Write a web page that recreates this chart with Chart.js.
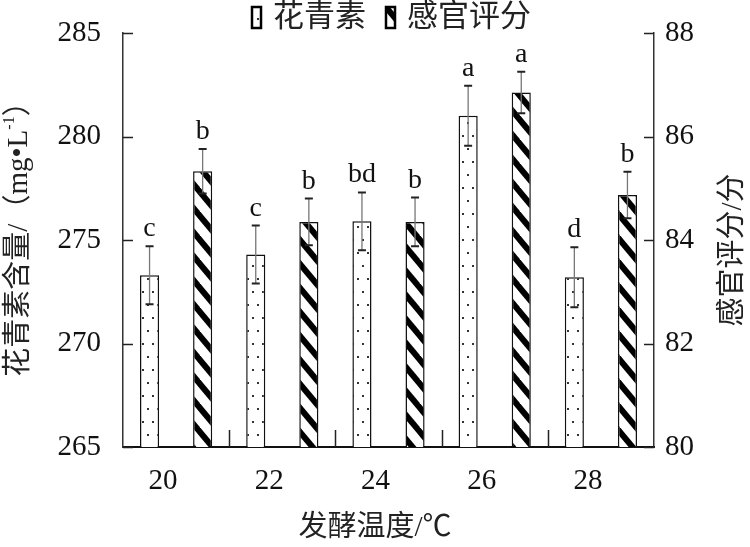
<!DOCTYPE html>
<html>
<head>
<meta charset="utf-8">
<script src="https://cdn.jsdelivr.net/npm/chart.js@4/dist/chart.umd.min.js"></script>
<style>
    body { margin: 0; background: #fff; }
    #wrap { width: 750px; height: 547px; }
</style>
</head>
<body>
<div id="wrap"><canvas id="chart"></canvas></div>
<script>
// Fermentation temperature (x categories)
const temps = [20, 22, 24, 26, 28];

// Anthocyanin content, mg/L (left axis)
const anthocyanin = [273.3, 274.3, 275.9, 281.0, 273.2];
const anthocyaninErr = [1.4, 1.4, 1.4, 1.45, 1.45];
const anthocyaninSig = ['c', 'c', 'bd', 'a', 'd'];

// Sensory score (right axis)
const sensory = [85.33, 84.35, 84.35, 86.85, 84.87];
const sensoryErr = [0.43, 0.45, 0.47, 0.4, 0.45];
const sensorySig = ['b', 'b', 'b', 'a', 'b'];

// Axis ticks
const leftTicks = { min: 265, max: 285, step: 5 };
const rightTicks = { min: 80, max: 88, step: 2 };

const serif = '"Liberation Serif", "Times New Roman", "Noto Sans CJK SC", serif';
const cjk = '"Liberation Serif", "Noto Sans CJK SC", serif';

// Fill patterns
function dotPattern() {
    const c = document.createElement('canvas');
    c.width = 10; c.height = 26;
    const g = c.getContext('2d');
    g.fillStyle = '#fff';
    g.fillRect(0, 0, 10, 26);
    g.fillStyle = '#333';
    g.fillRect(2, 5, 2, 2);
    g.fillRect(7, 18, 2, 2);
    return g.createPattern(c, 'repeat');
}

function hatchPattern() {
    const w = 20, h = 24;
    const c = document.createElement('canvas');
    c.width = w; c.height = h;
    const g = c.getContext('2d');
    g.fillStyle = '#fff';
    g.fillRect(0, 0, w, h);
    g.strokeStyle = '#000';
    g.lineWidth = 6;
    for (let k = -1; k <= 1; k++) {
        g.beginPath();
        g.moveTo(k * w - 3, -3.6);
        g.lineTo(k * w + w + 3, h + 3.6);
        g.stroke();
    }
    return g.createPattern(c, 'repeat');
}

const dots = dotPattern();
const hatch = hatchPattern();

// Fix the axis box size and drop the label overflow padding
function fixAxis(size) {
    return axis => {
        if (axis.isHorizontal()) axis.height = size;
        else axis.width = size;
        axis.paddingTop = 0;
        axis.paddingBottom = 0;
    };
}

// Error bars, significance letters, inward ticks, legend and titles
const decor = {
    id: 'decor',
    afterDatasetsDraw(chart) {
        const ctx = chart.ctx;
        const errs = [anthocyaninErr, sensoryErr];
        const sigs = [anthocyaninSig, sensorySig];
        const vals = [anthocyanin, sensory];
        ctx.save();
        chart.data.datasets.forEach((ds, i) => {
            const meta = chart.getDatasetMeta(i);
            const ys = chart.scales[meta.yAxisID];
            meta.data.forEach((bar, j) => {
                const top = ys.getPixelForValue(vals[i][j] + errs[i][j]);
                const bot = ys.getPixelForValue(vals[i][j] - errs[i][j]);
                ctx.strokeStyle = '#777';
                ctx.lineWidth = 1.3;
                ctx.beginPath();
                ctx.moveTo(bar.x, top);
                ctx.lineTo(bar.x, bot);
                ctx.stroke();
                ctx.strokeStyle = '#222';
                ctx.lineWidth = 2;
                ctx.beginPath();
                ctx.moveTo(bar.x - 4, top); ctx.lineTo(bar.x + 4, top);
                ctx.moveTo(bar.x - 4, bot); ctx.lineTo(bar.x + 4, bot);
                ctx.stroke();
                ctx.fillStyle = '#111';
                ctx.font = '28px ' + serif;
                ctx.textAlign = 'center';
                ctx.textBaseline = 'alphabetic';
                ctx.fillText(sigs[i][j], bar.x, top - 10);
            });
        });

        // inward tick marks
        const { y, y1, x } = chart.scales;
        ctx.strokeStyle = '#222';
        ctx.lineWidth = 1.5;
        ctx.beginPath();
        y.ticks.forEach(t => {
            const p = Math.round(y.getPixelForValue(t.value)) + 0.5;
            ctx.moveTo(y.right, p); ctx.lineTo(y.right + 10, p);
        });
        y1.ticks.forEach(t => {
            const p = Math.round(y1.getPixelForValue(t.value)) + 0.5;
            ctx.moveTo(y1.left, p); ctx.lineTo(y1.left - 10, p);
        });
        for (let k = 0; k < temps.length - 1; k++) {
            const p = Math.round(x.getPixelForValue((temps[k] + temps[k + 1]) / 2)) + 0.5;
            ctx.moveTo(p, x.top); ctx.lineTo(p, x.top - 17);
        }
        ctx.stroke();
        ctx.restore();
    },
    afterDraw(chart) {
        const ctx = chart.ctx;
        ctx.save();
        ctx.fillStyle = '#222';
        ctx.textBaseline = 'middle';

        // legend
        ctx.font = '31px ' + cjk;
        ctx.textAlign = 'left';
        let lx = 252;
        chart.data.datasets.forEach(ds => {
            ctx.fillStyle = ds.backgroundColor;
            ctx.fillRect(lx, 7, 9, 21);
            ctx.strokeStyle = '#000';
            ctx.lineWidth = 2.5;
            ctx.strokeRect(lx, 7, 9, 21);
            ctx.fillStyle = '#222';
            ctx.fillText(ds.label, lx + 21, 18);
            lx += 21 + ctx.measureText(ds.label).width + 20;
        });

        // x title
        ctx.font = '29px ' + cjk;
        ctx.textAlign = 'center';
        ctx.fillText('发酵温度/℃', 375, 528);

        // right title
        ctx.save();
        ctx.translate(733, 250);
        ctx.rotate(-Math.PI / 2);
        ctx.fillText('感官评分/分', 0, 0);
        ctx.restore();

        // left title with superscript
        ctx.save();
        ctx.translate(19, 232);
        ctx.rotate(-Math.PI / 2);
        const a = '花青素含量/（mg•L', sup = '-1', b = '）';
        ctx.font = '29px ' + cjk;
        const wa = ctx.measureText(a).width, wb = ctx.measureText(b).width;
        ctx.font = '16px ' + serif;
        const ws = ctx.measureText(sup).width;
        let sx = -(wa + ws + wb) / 2;
        ctx.textAlign = 'left';
        ctx.font = '29px ' + cjk;
        ctx.fillText(a, sx, 0);
        ctx.font = '16px ' + serif;
        ctx.fillText(sup, sx + wa, -9);
        ctx.font = '29px ' + cjk;
        ctx.fillText(b, sx + wa + ws, 0);
        ctx.restore();

        ctx.restore();
    }
};

new Chart(document.getElementById('chart').getContext('2d'), {
    type: 'bar',
    data: {
        datasets: [{
            label: '花青素',
            data: temps.map((t, i) => ({ x: t, y: anthocyanin[i] })),
            yAxisID: 'y',
            base: leftTicks.min,
            backgroundColor: dots,
            borderColor: '#111',
            borderWidth: 1.5
        }, {
            label: '感官评分',
            data: temps.map((t, i) => ({ x: t, y: sensory[i] })),
            yAxisID: 'y1',
            base: rightTicks.min,
            backgroundColor: hatch,
            borderColor: '#111',
            borderWidth: 1.5
        }]
    },
    options: {
        responsive: true,
        maintainAspectRatio: false,
        animation: false,
        categoryPercentage: 1.0,
        barPercentage: 0.36,
        layout: { padding: { top: 33, left: 0, right: 0, bottom: 0 } },
        plugins: {
            legend: { display: false },
            tooltip: { enabled: false }
        },
        scales: {
            x: {
                type: 'linear',
                offset: false,
                min: 19,
                max: 29,
                afterBuildTicks: axis => { axis.ticks = temps.map(v => ({ value: v })); },
                afterFit: fixAxis(100),
                grid: { display: false, drawTicks: false },
                border: { color: '#111', width: 2 },
                ticks: {
                    color: '#111',
                    font: { family: serif, size: 29 },
                    padding: 17,
                    labelOffset: -13,
                    maxRotation: 0
                }
            },
            y: {
                position: 'left',
                min: leftTicks.min,
                max: leftTicks.max,
                afterFit: fixAxis(123),
                grid: { display: false, drawTicks: false },
                border: { color: '#333', width: 1.5 },
                ticks: {
                    stepSize: leftTicks.step,
                    color: '#111',
                    font: { family: serif, size: 29 },
                    padding: 22
                }
            },
            y1: {
                position: 'right',
                min: rightTicks.min,
                max: rightTicks.max,
                afterFit: fixAxis(96),
                grid: { display: false, drawTicks: false },
                border: { color: '#333', width: 1.5 },
                ticks: {
                    stepSize: rightTicks.step,
                    color: '#111',
                    font: { family: serif, size: 29 },
                    padding: 11
                }
            }
        }
    },
    plugins: [decor]
});
</script>
</body>
</html>
